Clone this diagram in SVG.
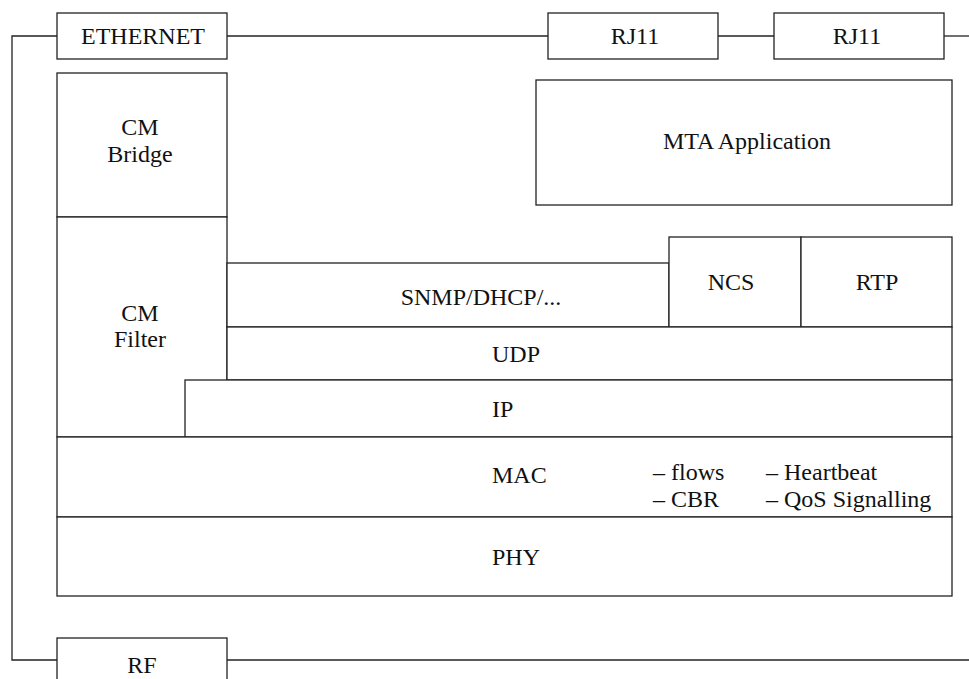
<svg xmlns="http://www.w3.org/2000/svg" width="969" height="679" viewBox="0 0 969 679">
<style>
.b{fill:#fff;stroke:#222;stroke-width:1.3}
.l{fill:none;stroke:#222;stroke-width:1.3}
text{font-family:"Liberation Serif","Times New Roman",serif;font-size:24px;fill:#111;text-anchor:middle}
.s{text-anchor:start}
</style>
<rect width="969" height="679" fill="#fff"/>
<g id="connectors">
<path class="l" d="M57,36 H12 V660 H57"/>
<path class="l" d="M227,36 H548"/>
<path class="l" d="M718,36 H774"/>
<path class="l" d="M944,36 H969"/>
<path class="l" d="M227,660 H969"/>
</g>
<g id="ethernet"><rect class="b" x="57" y="13" width="170" height="46"/><text x="143" y="44">ETHERNET</text></g>
<g id="rj11a"><rect class="b" x="548" y="13" width="170" height="46"/><text x="635" y="44">RJ11</text></g>
<g id="rj11b"><rect class="b" x="774" y="13" width="170" height="46"/><text x="857" y="44">RJ11</text></g>
<g id="rf"><rect class="b" x="57" y="638" width="170" height="50"/><text x="142" y="673">RF</text></g>
<g id="cmbridge"><rect class="b" x="57" y="73" width="170" height="144"/><text x="140" y="135">CM</text><text x="140" y="162">Bridge</text></g>
<g id="cmfilter"><rect class="b" x="57" y="217" width="170" height="220"/><text x="140" y="321">CM</text><text x="140" y="347">Filter</text></g>
<g id="mta"><rect class="b" x="536" y="80" width="416" height="125"/><text x="747" y="149">MTA Application</text></g>
<g id="snmp"><rect class="b" x="227" y="263" width="442" height="64"/><text x="481" y="305">SNMP/DHCP/...</text></g>
<g id="ncs"><rect class="b" x="669" y="237" width="132" height="90"/><text x="731" y="290">NCS</text></g>
<g id="rtp"><rect class="b" x="801" y="237" width="151" height="90"/><text x="877" y="290">RTP</text></g>
<g id="udp"><rect class="b" x="227" y="327" width="725" height="53"/><text class="s" x="492" y="362">UDP</text></g>
<g id="ip"><rect class="b" x="185" y="380" width="767" height="57"/><text class="s" x="492" y="417">IP</text></g>
<g id="mac"><rect class="b" x="57" y="437" width="895" height="80"/><text class="s" x="492" y="483">MAC</text>
<text class="s" x="653" y="480">– flows</text><text class="s" x="653" y="507">– CBR</text>
<text class="s" x="766" y="480">– Heartbeat</text><text class="s" x="766" y="507">– QoS Signalling</text></g>
<g id="phy"><rect class="b" x="57" y="517" width="895" height="79"/><text class="s" x="492" y="565">PHY</text></g>
</svg>
